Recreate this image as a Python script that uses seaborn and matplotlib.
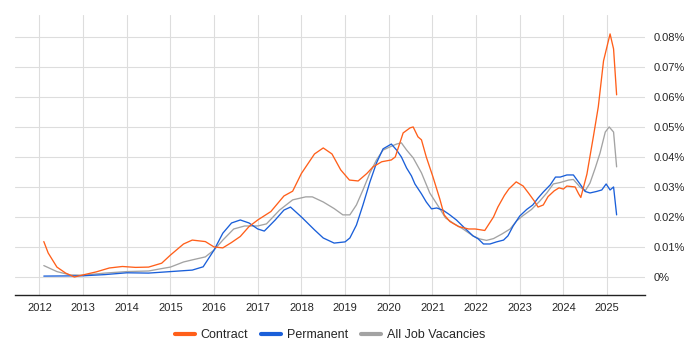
import pandas as pd
import matplotlib.pyplot as plt
import seaborn as sns
import numpy as np

# Dados (ano decimal, % das vagas)
contrato_x = [2012.1, 2012.2, 2012.4, 2012.6, 2012.8, 2013.0, 2013.3, 2013.6, 2013.9, 2014.2,
              2014.5, 2014.8, 2015.0, 2015.3, 2015.5, 2015.8, 2016.0, 2016.2, 2016.4, 2016.6,
              2016.8, 2017.0, 2017.3, 2017.6, 2017.8, 2018.0, 2018.3, 2018.5, 2018.7, 2018.9,
              2019.1, 2019.3, 2019.5, 2019.64, 2019.84, 2020.06, 2020.15, 2020.33, 2020.49, 2020.56,
              2020.67, 2020.75, 2020.86, 2021.01, 2021.17, 2021.27, 2021.4, 2021.6, 2021.83, 2021.98,
              2022.2, 2022.4, 2022.5, 2022.65, 2022.75, 2022.92, 2023.08, 2023.2, 2023.35, 2023.42,
              2023.54, 2023.65, 2023.79, 2023.9, 2024.0, 2024.08, 2024.27, 2024.35, 2024.4, 2024.54,
              2024.69, 2024.8, 2024.92, 2025.07, 2025.15, 2025.22]
contrato_y = [0.0118, 0.008, 0.0033, 0.0013, 0.0, 0.0007, 0.0017, 0.003, 0.0035, 0.0032,
              0.0033, 0.0046, 0.0073, 0.011, 0.0123, 0.0118, 0.010, 0.0097, 0.0115, 0.0135,
              0.0168, 0.019, 0.0218, 0.027, 0.0286, 0.0345, 0.041, 0.043, 0.041, 0.0357,
              0.0323, 0.032, 0.0345, 0.0367, 0.0384, 0.039, 0.040, 0.048, 0.0497, 0.050,
              0.0467, 0.0457, 0.040, 0.0335, 0.026, 0.0207, 0.0185, 0.0168, 0.016, 0.016,
              0.0155, 0.020, 0.0233, 0.0272, 0.0293, 0.0317, 0.0303, 0.028, 0.025, 0.0233,
              0.024, 0.0268, 0.0287, 0.0297, 0.0293, 0.0303, 0.030, 0.0277, 0.0265, 0.0343,
              0.047, 0.0567, 0.072, 0.081, 0.076, 0.0607]

perm_x = [2012.1, 2013.0, 2013.5, 2014.0, 2014.5, 2015.0, 2015.5, 2015.75, 2016.0, 2016.2,
          2016.4, 2016.6, 2016.8, 2017.0, 2017.15, 2017.4, 2017.6, 2017.75, 2018.0, 2018.3,
          2018.5, 2018.75, 2019.0, 2019.11, 2019.26, 2019.41, 2019.57, 2019.72, 2019.87, 2020.06,
          2020.18, 2020.29, 2020.41, 2020.52, 2020.6, 2020.75, 2020.86, 2020.98, 2021.1, 2021.25,
          2021.39, 2021.55, 2021.74, 2021.93, 2022.05, 2022.17, 2022.32, 2022.47, 2022.63, 2022.73,
          2022.85, 2023.0, 2023.16, 2023.3, 2023.42, 2023.54, 2023.7, 2023.82, 2023.93, 2024.08,
          2024.23, 2024.38, 2024.5, 2024.61, 2024.76, 2024.88, 2024.98, 2025.07, 2025.15, 2025.22]
perm_y = [0.0003, 0.0004, 0.0008, 0.0014, 0.0013, 0.0018, 0.0023, 0.0034, 0.009, 0.0146,
          0.018, 0.019, 0.018, 0.016, 0.0153, 0.019, 0.0223, 0.0233, 0.020, 0.0157,
          0.013, 0.0113, 0.0117, 0.013, 0.0173, 0.024, 0.0317, 0.038, 0.0427, 0.0443,
          0.0423, 0.040, 0.0363, 0.0337, 0.031, 0.0277, 0.025, 0.0227, 0.023, 0.0222,
          0.0208, 0.019, 0.0163, 0.0137, 0.0127, 0.011, 0.011, 0.0117, 0.0123, 0.0137,
          0.017, 0.0203, 0.0225, 0.024, 0.0263, 0.0283, 0.0307, 0.0333, 0.0333, 0.034,
          0.034, 0.031, 0.0285, 0.028, 0.0285, 0.029, 0.031, 0.029, 0.030, 0.0207]

todas_x = [2012.1, 2012.4, 2012.7, 2013.0, 2013.5, 2014.0, 2014.5, 2014.8, 2015.0, 2015.3,
           2015.5, 2015.8, 2016.0, 2016.2, 2016.45, 2016.7, 2017.0, 2017.2, 2017.5, 2017.8,
           2018.1, 2018.25, 2018.5, 2018.75, 2018.95, 2019.11, 2019.26, 2019.41, 2019.57, 2019.72,
           2019.87, 2020.02, 2020.18, 2020.29, 2020.41, 2020.56, 2020.75, 2020.94, 2021.13, 2021.3,
           2021.47, 2021.7, 2021.93, 2022.08, 2022.24, 2022.4, 2022.59, 2022.78, 2022.93, 2023.08,
           2023.27, 2023.46, 2023.62, 2023.77, 2023.93, 2024.12, 2024.23, 2024.38, 2024.5, 2024.61,
           2024.73, 2024.84, 2024.96, 2025.05, 2025.15, 2025.22]
todas_y = [0.0038, 0.0018, 0.0007, 0.0006, 0.0013, 0.0018, 0.002, 0.0028, 0.0033, 0.005,
           0.0057, 0.0067, 0.009, 0.0123, 0.016, 0.017, 0.017, 0.0177, 0.0223, 0.0257,
           0.0267, 0.0267, 0.025, 0.0228, 0.0207, 0.0207, 0.024, 0.029, 0.0347, 0.039,
           0.0423, 0.0433, 0.0443, 0.0447, 0.0423, 0.0397, 0.0347, 0.028, 0.0237, 0.0197,
           0.018, 0.016, 0.0137, 0.0127, 0.0122, 0.0128, 0.0143, 0.016, 0.0187, 0.0205,
           0.0225, 0.0253, 0.028, 0.031, 0.0315, 0.0323, 0.0325, 0.030, 0.0287, 0.0313,
           0.0363, 0.0413, 0.0483, 0.050, 0.0483, 0.0367]

anos = list(range(2012, 2026))
y_ticks = [0, 0.01, 0.02, 0.03, 0.04, 0.05, 0.06, 0.07, 0.08]
y_labels = ['0%', '0.01%', '0.02%', '0.03%', '0.04%', '0.05%', '0.06%', '0.07%', '0.08%']

series = ['Contract', 'Permanent', 'All Job Vacancies']
cores = ['#ff5f1a', '#1a5fd9', '#a3a3a3']

df = pd.concat([
    pd.DataFrame({'ano': contrato_x, 'valor': contrato_y, 'serie': series[0]}),
    pd.DataFrame({'ano': perm_x, 'valor': perm_y, 'serie': series[1]}),
    pd.DataFrame({'ano': todas_x, 'valor': todas_y, 'serie': series[2]}),
])

sns.set_theme(style="white")
plt.rcParams['font.family'] = ['Liberation Sans', 'DejaVu Sans']

fig = plt.figure(figsize=(7, 3.5), dpi=100)
ax = fig.add_axes([15 / 700, 55 / 350, 630 / 700, 280 / 350])

# ordem de desenho: cinza por baixo
for serie, cor in zip(series[::-1], cores[::-1]):
    d = df[df['serie'] == serie]
    sns.lineplot(data=d, x='ano', y='valor', color=cor, linewidth=0.95, ax=ax,
                 estimator=None, sort=False)

ax.set_xlim(2011.44, 2025.87)
ax.set_ylim(-0.006, 0.0873)
ax.set_xticks(anos)
ax.set_xticklabels([str(a) for a in anos], fontsize=8)
ax.set_yticks(y_ticks)
ax.set_yticklabels(y_labels, fontsize=8)
ax.yaxis.tick_right()
ax.tick_params(axis='y', length=0, pad=6)
ax.tick_params(axis='x', length=0, pad=6)
ax.grid(True, color='#dddddd', linewidth=0.8)
ax.set_axisbelow(True)
for lado in ['top', 'left', 'right']:
    ax.spines[lado].set_visible(False)
ax.spines['bottom'].set_color('#222222')
ax.spines['bottom'].set_linewidth(1)
ax.set_xlabel('')
ax.set_ylabel('')

handles = [plt.Line2D([0], [0], color=c, linewidth=3) for c in cores]
fig.legend(handles, series, loc='center', bbox_to_anchor=(330 / 700, 15 / 350), ncol=3,
           frameon=False, fontsize=9, handlelength=1.6, columnspacing=1.0, handletextpad=0.5)

plt.savefig('out.png', dpi=100)
plt.close()
